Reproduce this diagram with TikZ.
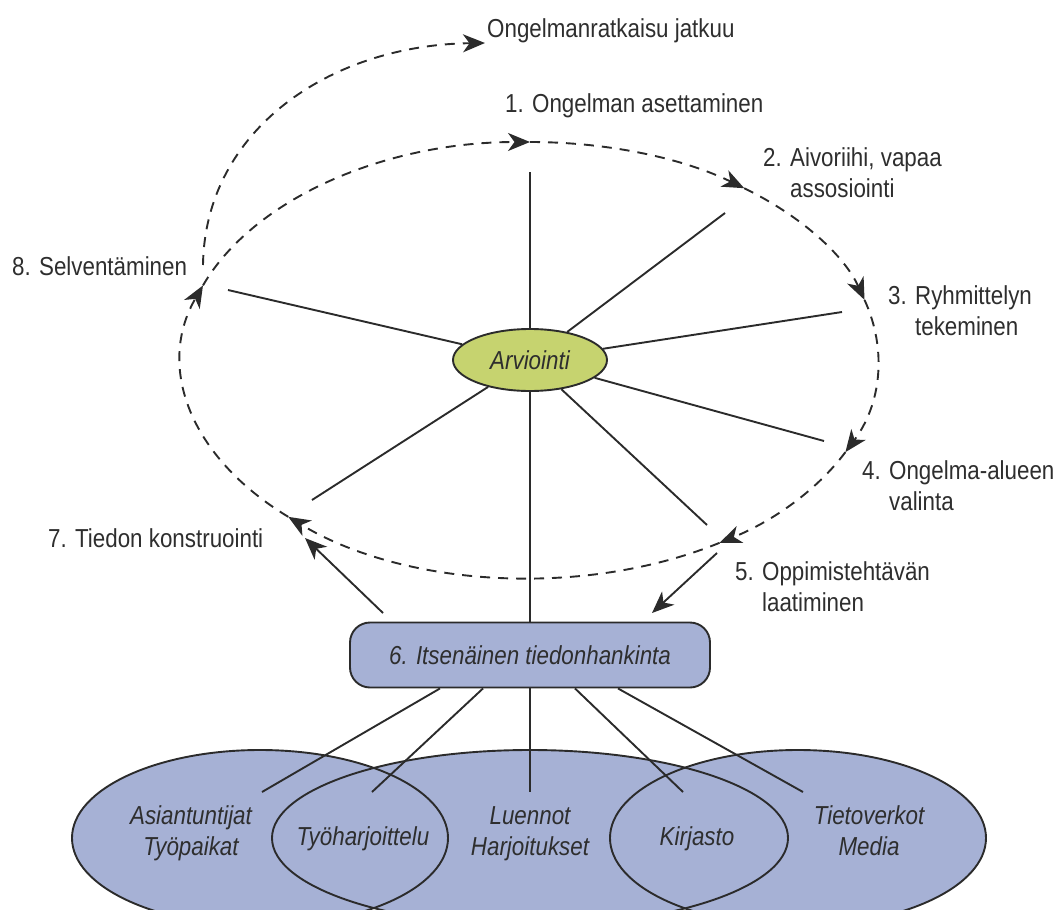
\documentclass[tikz,border=0pt]{standalone}
\usepackage{fontspec}
\setmainfont{Liberation Sans}[FakeStretch=0.86]
\usetikzlibrary{arrows.meta,calc,shapes.geometric}
\definecolor{ink}{HTML}{2B2B2B}
\definecolor{textgray}{HTML}{2E2E2E}
\definecolor{boxblue}{HTML}{A6B1D5}
\definecolor{leafgreen}{HTML}{C6D36F}
\begin{document}
\begin{tikzpicture}[x=1pt,y=-1pt,
  font=\fontsize{26}{30.5}\selectfont, text=textgray,
  lbl/.style={inner sep=0pt, anchor=base west, align=left},
  srclbl/.style={inner sep=0pt, anchor=base, align=center, font=\fontsize{26}{30.5}\selectfont\itshape},
  tipstyle/.style={-{Stealth[length=22pt,width=18pt,inset=6.5pt]}},
  cyc/.style={draw=ink, line width=1.9pt, dash pattern=on 10pt off 8pt, tipstyle},
  spoke/.style={draw=ink, line width=1.9pt},
  blob/.style={draw=ink, line width=1.9pt}]
\useasboundingbox (0,0) rectangle (1058,910);
\clip (0,0) rectangle (1058,910);

% sources of information along the bottom
\fill[boxblue] (260,838) ellipse [x radius=188, y radius=88];
\fill[boxblue] (530,838) ellipse [x radius=258, y radius=88];
\fill[boxblue] (798,838) ellipse [x radius=188, y radius=88];
\draw[blob] (260,838) ellipse [x radius=188, y radius=88];
\draw[blob] (530,838) ellipse [x radius=258, y radius=88];
\draw[blob] (798,838) ellipse [x radius=188, y radius=88];

\node[srclbl] (asi) at (191,855) {Asiantuntijat\\Työpaikat};
\node[srclbl] (tyo) at (363,845) {Työharjoittelu};
\node[srclbl] (lue) at (530,855) {Luennot\\Harjoitukset};
\node[srclbl] (kir) at (697,845) {Kirjasto};
\node[srclbl] (tie) at (869,855) {Tietoverkot\\Media};

% central evaluation and the self-study box
\node[ellipse, draw=ink, line width=1.9pt, fill=leafgreen, minimum width=154pt,
      minimum height=62pt, inner sep=0pt, font=\fontsize{26}{30.5}\selectfont\itshape]
      (arv) at (530,360) {Arviointi};
\node[draw=ink, line width=1.9pt, fill=boxblue, rounded corners=20pt,
      minimum width=360pt, minimum height=65pt, inner sep=0pt,
      font=\fontsize{26}{30.5}\selectfont\itshape]
      (box) at (530,655) {6. Itsenäinen tiedonhankinta};

% the problem-solving cycle
\coordinate (C) at (530,360);
\foreach \a/\b in {-160/-90, -90/-52, -52/-16, -16/25, 25/57, 57/134, 134/200}
  \draw[cyc] ($(C)+(\a:348 and 218)$) arc[start angle=\a, end angle=\b, x radius=348, y radius=218];

% continuation of the cycle
\coordinate (o1) at (203,265);
\coordinate (o2) at (485,43);
\draw[cyc] (o1) .. controls (205,130) and (330,45) .. (o2);

% spokes from the evaluation
\coordinate (s1) at (530,172);
\coordinate (s2) at (725,213);
\coordinate (s3) at (842,312);
\coordinate (s4) at (824,441);
\coordinate (s5) at (707,525);
\coordinate (s7) at (312,500);
\coordinate (s8) at (228,290);
\foreach \s in {s1,s2,s3,s4,s5,s7,s8}
  \draw[spoke] (arv) -- (\s);
\draw[spoke] (arv) -- (box);

% links from the self-study box to the sources
\coordinate (b1) at (262,792);
\coordinate (b2) at (372,792);
\coordinate (b3) at (530,792);
\coordinate (b4) at (683,792);
\coordinate (b5) at (803,792);
\draw[spoke] ($(box.south)+(-90,0)$) -- (b1);
\draw[spoke] ($(box.south)+(-47,0)$) -- (b2);
\draw[spoke] (box.south) -- (b3);
\draw[spoke] ($(box.south)+(45,0)$) -- (b4);
\draw[spoke] ($(box.south)+(88,0)$) -- (b5);

% arrows into and out of the self-study step
\coordinate (a5s) at (717,553);
\coordinate (a5e) at (652,613);
\draw[spoke, tipstyle] (a5s) -- (a5e);
\coordinate (a7s) at (383,613);
\coordinate (a7e) at (305,538);
\draw[spoke, tipstyle] (a7s) -- (a7e);

% step labels
\node[lbl] (lcont) at (487,37) {Ongelmanratkaisu jatkuu};
\node[lbl] (l1) at (505,112) {1. Ongelman asettaminen};
\node[lbl] (l2) at (763,197) {2. Aivoriihi, vapaa\\\hphantom{2. }assosiointi};
\node[lbl] (l3) at (888,335) {3. Ryhmittelyn\\\hphantom{3. }tekeminen};
\node[lbl] (l4) at (862,510) {4. Ongelma-alueen\\\hphantom{4. }valinta};
\node[lbl] (l5) at (735,611) {5. Oppimistehtävän\\\hphantom{5. }laatiminen};
\node[lbl] (l7) at (48,547) {7. Tiedon konstruointi};
\node[lbl] (l8) at (12,275) {8. Selventäminen};
\end{tikzpicture}
\end{document}
